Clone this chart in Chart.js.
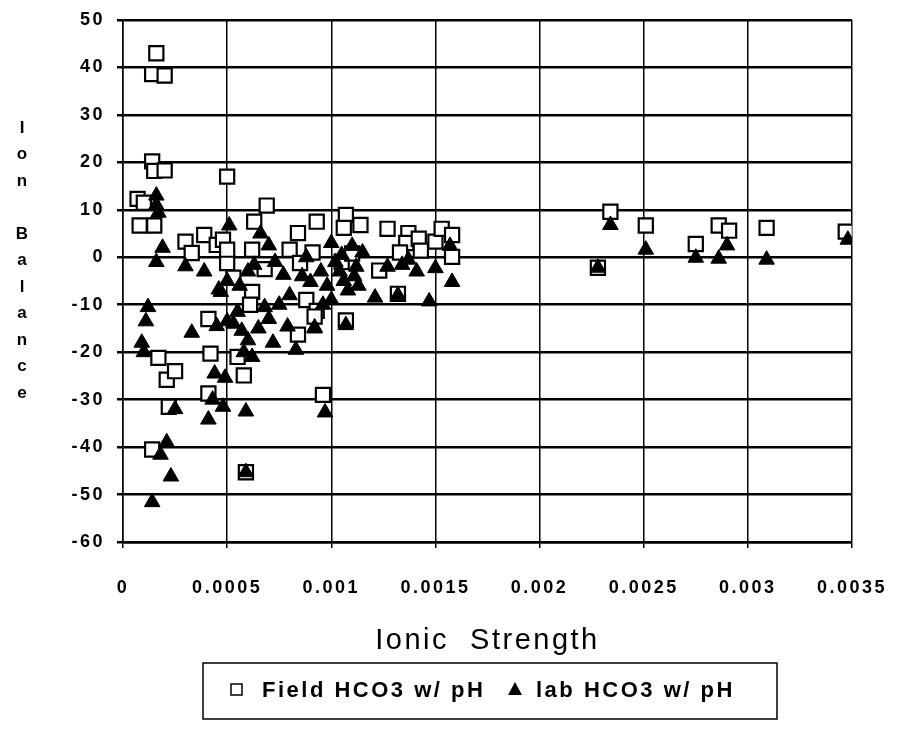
<!DOCTYPE html>
<html>
<head>
<meta charset="utf-8">
<script src="https://cdn.jsdelivr.net/npm/chart.js@4/dist/chart.umd.min.js"></script>
<style>
  html, body { margin: 0; padding: 0; background: #fff; }
  #wrap { width: 900px; height: 736px; position: relative; }
</style>
</head>
<body>
<div id="wrap"><canvas id="ionChart"></canvas></div>
<script>
// Field HCO3 w/ pH (open squares)
var fieldIonic = [0.00016, 0.00014, 0.0002, 0.00014, 0.00015, 0.0002, 0.0005, 0.00007, 0.0001, 0.00008,
  0.00015, 0.0003, 0.00039, 0.00033, 0.00045, 0.00048, 0.0005, 0.00017, 0.00042, 0.00021,
  0.00025, 0.00022, 0.00014, 0.00041, 0.00041, 0.00069, 0.00063, 0.00093, 0.00084, 0.0005,
  0.00062, 0.0008, 0.00091, 0.00053, 0.00062, 0.00061, 0.00068, 0.00085, 0.00088, 0.00093,
  0.00084, 0.00055, 0.00058, 0.00096, 0.00059, 0.00107, 0.00114, 0.00106, 0.00105, 0.0011,
  0.00127, 0.00137, 0.00136, 0.00142, 0.0015, 0.00153, 0.00158, 0.00158, 0.00143, 0.00133,
  0.00123, 0.00132, 0.00107, 0.00092, 0.00228, 0.00234, 0.00251, 0.00275, 0.00286, 0.00291,
  0.00309, 0.00347];
var fieldBalance = [43, 38.6, 38.3, 20.2, 18.2, 18.3, 17, 12.3, 11.5, 6.7,
  6.7, 3.3, 4.7, 0.9, 2.6, 3.7, -1.2, -21.2, -20.3, -25.8,
  -24, -31.5, -40.5, -28.7, -13, 10.9, 7.5, 7.5, 5.1, 1.6,
  1.6, 1.6, 1, -4.3, -7.3, -10, -2.5, -1.2, -9, -11.3,
  -16.3, -21, -24.9, -29, -45.3, 8.9, 6.8, 6.2, -1, 0.8,
  6, 5.1, 3, 3.9, 3.3, 6, 4.7, 0.1, 1.4, 1,
  -2.8, -7.7, -13.3, -12.5, -2.2, 9.6, 6.7, 2.8, 6.7, 5.6,
  6.2, 5.4];

// lab HCO3 w/ pH (filled triangles)
var labIonic = [0.00016, 0.00016, 0.00017, 0.00019, 0.00016, 0.0003, 0.00039, 0.00046, 0.00012, 0.00011,
  0.00009, 0.0001, 0.00033, 0.00051, 0.00044, 0.00049, 0.00025, 0.00041, 0.00043, 0.00048,
  0.00021, 0.00018, 0.00023, 0.00014, 0.00059, 0.00097, 0.00059, 0.00066, 0.00063, 0.00077,
  0.00047, 0.00055, 0.0009, 0.00092, 0.00079, 0.00056, 0.0005, 0.0006, 0.0007, 0.00073,
  0.00045, 0.0005, 0.00053, 0.00057, 0.0006, 0.00058, 0.00062, 0.00065, 0.0007, 0.00072,
  0.00075, 0.0008, 0.00083, 0.00068, 0.00086, 0.00088, 0.00095, 0.00096, 0.00098, 0.001,
  0.00102, 0.00104, 0.00106, 0.00108, 0.001, 0.00112, 0.00115, 0.00111, 0.00113, 0.00105,
  0.0011, 0.00107, 0.00092, 0.00121, 0.00127, 0.00132, 0.00134, 0.00137, 0.00141, 0.0015,
  0.00147, 0.00158, 0.00157, 0.00228, 0.00234, 0.00251, 0.00275, 0.0029, 0.00286, 0.00309,
  0.00348];
var labBalance = [13, 11, 9.4, 2, -1, -1.9, -3, -6.8, -10.5, -13.5,
  -18, -20, -15.9, 6.7, -24.5, -25.4, -32, -34.2, -30, -31.5,
  -39, -41.6, -46.2, -51.6, -32.5, -32.7, -45.3, 5, -1.6, -3.7,
  -7.3, -11.5, -5.2, -14.8, -14.6, -6, -5, -3, 2.5, -1,
  -14.5, -13.5, -14, -15.5, -17.5, -20, -21, -15, -13, -18,
  -10, -8, -19.5, -10.5, -4, 0, -3, -10, -6, 3,
  -1, -3, -5, -7, -9, -2, 1, -4, -6, 0.5,
  2.4, -14.3, -15, -8.5, -2, -8, -1.6, -0.5, -3, -2.3,
  -9.3, -5.2, 2.4, -2.2, 6.8, 1.6, -0.1, 2.5, -0.3, -0.5,
  3.7];

var seriesNames = ["Field HCO3 w/ pH", "lab HCO3 w/ pH"];
var xRange = [0, 0.0035, 0.0005];
var yRange = [-60, 50, 10];
var yTitleLetters = ["I", "o", "n", "", "B", "a", "l", "a", "n", "c", "e"];

function toPoints(xs, ys) {
  return xs.map(function (x, i) { return { x: x, y: ys[i] }; });
}

var spacingPlugin = {
  id: 'spacing',
  beforeDraw: function (chart) {
    chart.ctx.letterSpacing = '2.5px';
  }
};

var extrasPlugin = {
  id: 'extras',
  afterDraw: function (chart) {
    var ctx = chart.ctx;
    ctx.save();
    // stacked y title
    ctx.fillStyle = '#000';
    ctx.font = 'bold 17px "Liberation Sans", Arial, sans-serif';
    ctx.letterSpacing = '0px';
    ctx.textAlign = 'center';
    ctx.textBaseline = 'middle';
    yTitleLetters.forEach(function (ch, i) {
      ctx.fillText(ch, 22, 128 + i * 26.5);
    });

    // legend box
    ctx.strokeStyle = '#000';
    ctx.lineWidth = 1.5;
    ctx.strokeRect(203, 663, 574, 56);

    ctx.fillStyle = '#fff';
    ctx.fillRect(231, 684, 11, 11);
    ctx.strokeRect(231, 684, 11, 11);

    ctx.fillStyle = '#000';
    ctx.beginPath();
    ctx.moveTo(515, 682);
    ctx.lineTo(522, 695);
    ctx.lineTo(508, 695);
    ctx.closePath();
    ctx.fill();

    ctx.font = 'bold 22px "Liberation Sans", Arial, sans-serif';
    ctx.letterSpacing = '2.5px';
    ctx.textAlign = 'left';
    ctx.fillText(seriesNames[0], 262, 691);
    ctx.fillText(seriesNames[1], 536, 691);
    ctx.restore();
  }
};

var ctx = document.getElementById('ionChart').getContext('2d');
var ionChart = new Chart(ctx, {
  type: 'scatter',
  data: {
    datasets: [{
        label: seriesNames[0],
        data: toPoints(fieldIonic, fieldBalance),
        pointStyle: 'rect',
        pointRadius: 10,
        backgroundColor: '#fff',
        borderColor: '#000',
        borderWidth: 2.2,
        order: 2
      },
      {
        label: seriesNames[1],
        data: toPoints(labIonic, labBalance),
        pointStyle: 'triangle',
        pointRadius: 9,
        backgroundColor: '#000',
        borderColor: '#000',
        borderWidth: 1,
        order: 1
      }
    ]
  },
  options: {
    responsive: true,
    maintainAspectRatio: false,
    animation: false,
    layout: { padding: { left: 0, right: 48, top: 20, bottom: 72 } },
    plugins: {
      legend: { display: false },
      tooltip: { enabled: false }
    },
    scales: {
      x: {
        type: 'linear',
        min: xRange[0],
        max: xRange[1],
        afterFit: function (s) { s.height = 122; s.paddingLeft = 0; s.paddingRight = 0; },
        ticks: {
          stepSize: xRange[2],
          autoSkip: false,
          maxRotation: 0,
          padding: 29,
          color: '#000',
          font: { family: '"Liberation Sans", Arial, sans-serif', size: 18, weight: 'bold' },
          callback: function (v) { return String(Number(Number(v).toFixed(4))); }
        },
        grid: { color: '#000', lineWidth: 1.5, tickLength: 6 },
        border: { color: '#000', width: 2.5 },
        title: {
          display: true,
          text: 'Ionic  Strength',
          color: '#000',
          padding: { top: 0, bottom: 6 },
          font: { family: '"Liberation Sans", Arial, sans-serif', size: 29, weight: 'normal' }
        }
      },
      y: {
        min: yRange[0],
        max: yRange[1],
        afterFit: function (s) { s.width = 123; s.paddingTop = 0; s.paddingBottom = 0; },
        ticks: {
          stepSize: yRange[2],
          padding: 12,
          color: '#000',
          font: { family: '"Liberation Sans", Arial, sans-serif', size: 18, weight: 'bold' }
        },
        grid: { color: '#000', lineWidth: 2.5, tickLength: 6 },
        border: { color: '#000', width: 1.5 }
      }
    }
  },
  plugins: [spacingPlugin, extrasPlugin]
});
</script>
</body>
</html>
